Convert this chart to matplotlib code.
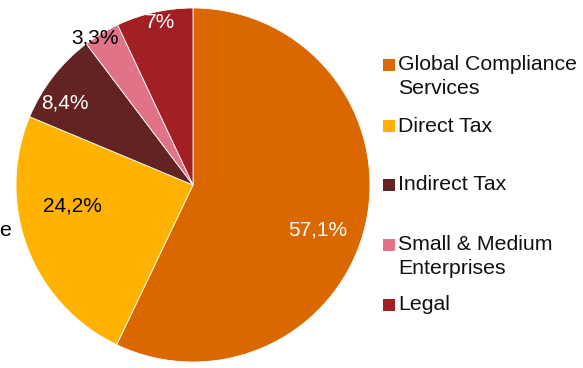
import numpy as np
import matplotlib
matplotlib.use("Agg")
import matplotlib.pyplot as plt

plt.rcParams['font.family'] = ['Liberation Sans', 'DejaVu Sans']

# Data
categories = ["Global Compliance\nServices", "Direct Tax", "Indirect Tax",
              "Small & Medium\nEnterprises", "Legal"]
shares = [57.1, 24.2, 8.4, 3.3, 7.0]
pct_labels = ["57,1%", "24,2%", "8,4%", "3,3%", "7%"]
colors = ["#DA6700", "#FFB300", "#622322", "#E07387", "#A21F23"]
label_colors = ["white", "black", "white", "black", "white"]

# label placement (radius fraction, angle shift in degrees)
label_r = [0.75, 0.69, 0.86, 1.0, 0.94]
label_shift = [-7, -11, 5, 2.5, -1]

W, H = 583, 368
fig = plt.figure(figsize=(W / 100, H / 100), dpi=100)

# pie axes: centre (193,185) px, radius 177 px
ax = fig.add_axes([16 / W, 6 / H, 354 / W, 354 / H])
wedges, _ = ax.pie(shares, colors=colors, startangle=90, counterclock=False,
                   radius=1.0, wedgeprops=dict(edgecolor="white", linewidth=0.6))
ax.set_xlim(-1, 1)
ax.set_ylim(-1, 1)
ax.set_aspect("equal")
ax.axis("off")

for w, txt, col, r, sh in zip(wedges, pct_labels, label_colors, label_r, label_shift):
    ang = np.deg2rad((w.theta1 + w.theta2) / 2 + sh)
    ax.text(r * np.cos(ang), r * np.sin(ang), txt, color=col, fontsize=15,
            ha="center", va="center")

# legend, drawn by hand to follow the uneven spacing
legend_y = [65, 126, 185, 245, 305]  # px from top, first text line
line_gap = 23
for cat, col, y in zip(categories, colors, legend_y):
    fig.patches.append(plt.Rectangle((383 / W, 1 - (y + 6) / H), 12 / W, 12 / H,
                                     transform=fig.transFigure,
                                     facecolor=col, edgecolor="none"))
    for i, line in enumerate(cat.split("\n")):
        fig.text(398 / W, 1 - (y + i * line_gap) / H, line, fontsize=15.3,
                 ha="left", va="center", color="#111111")

# clipped text on left border
fig.text(11 / W, 1 - 230 / H, "e", fontsize=15.3, ha="right", va="center")

fig.savefig("out.png", dpi=100)
